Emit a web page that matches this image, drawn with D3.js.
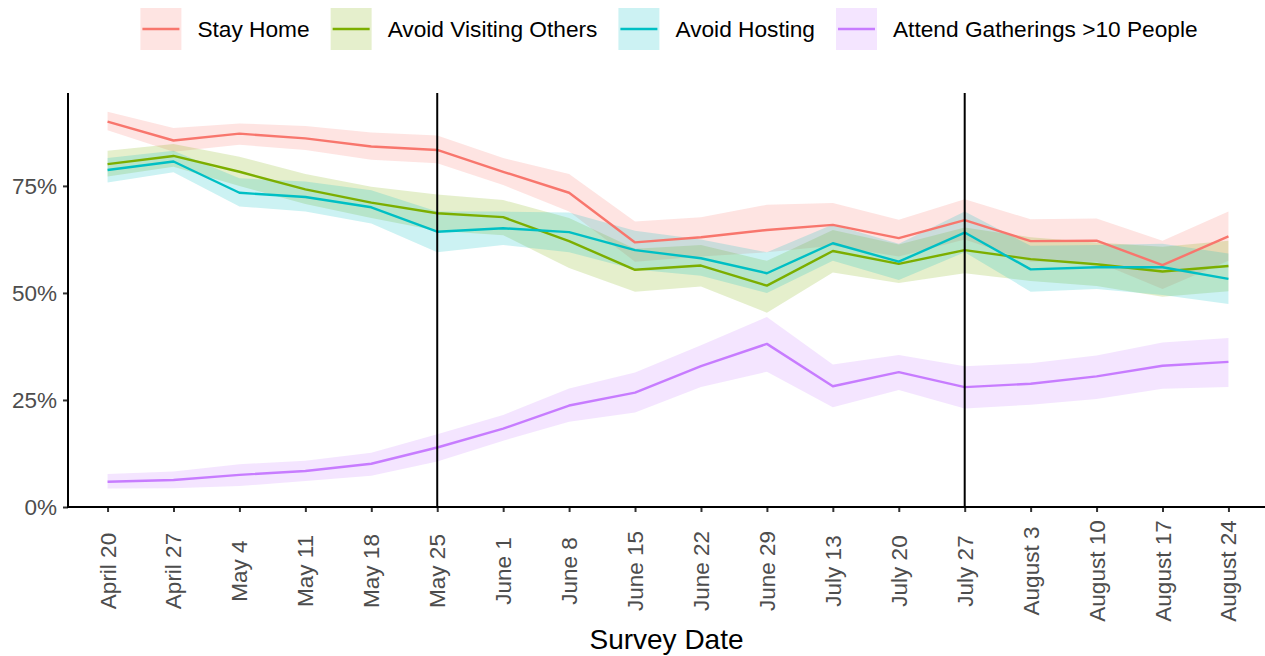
<!DOCTYPE html>
<html>
<head>
<meta charset="utf-8">
<script src="https://cdn.jsdelivr.net/npm/d3@7/dist/d3.min.js"></script>
<style>
  html, body { margin: 0; padding: 0; background: #fff; }
  svg { display: block; font-family: "Liberation Sans", Arial, Helvetica, sans-serif; }
</style>
</head>
<body>
<svg id="chart" width="1265" height="656"></svg>
<script>
// Weekly survey dates (x categories)
const surveyDates = ["April 20", "April 27", "May 4", "May 11", "May 18", "May 25",
  "June 1", "June 8", "June 15", "June 22", "June 29", "July 13", "July 20",
  "July 27", "August 3", "August 10", "August 17", "August 24"];

// Percent of respondents, with lower / upper interval bounds
const stayHome    = [90.0, 85.6, 87.2, 86.1, 84.2, 83.4, 78.3, 73.4, 61.8, 63.0, 64.7, 65.9, 62.8, 67.0, 62.1, 62.2, 56.5, 63.2];
const stayHomeLo  = [88.0, 83.0, 84.6, 83.4, 81.1, 80.3, 75.2, 69.0, 57.3, 58.5, 59.5, 61.0, 58.5, 62.5, 57.3, 57.3, 50.9, 57.5];
const stayHomeHi  = [92.3, 88.5, 89.6, 89.0, 87.5, 86.8, 81.5, 77.8, 66.7, 67.7, 70.6, 71.0, 67.1, 71.9, 67.2, 67.4, 62.2, 69.0];

const avoidVisiting   = [80.1, 82.0, 78.3, 74.2, 71.1, 68.6, 67.7, 62.1, 55.4, 56.4, 51.7, 59.8, 56.8, 60.0, 57.9, 56.7, 55.0, 56.3];
const avoidVisitingLo = [77.2, 79.5, 75.0, 70.8, 67.5, 64.5, 63.5, 55.8, 50.3, 51.5, 45.4, 54.8, 52.3, 54.6, 52.8, 51.6, 49.1, 50.4];
const avoidVisitingHi = [83.2, 84.8, 81.8, 77.8, 74.8, 73.0, 71.7, 67.5, 60.3, 61.2, 57.5, 64.7, 61.3, 65.3, 63.0, 61.8, 60.8, 62.2];

const avoidHosting   = [78.7, 80.7, 73.4, 72.4, 70.0, 64.3, 65.1, 64.2, 60.0, 58.1, 54.6, 61.6, 57.3, 64.1, 55.5, 56.0, 56.0, 53.3];
const avoidHostingLo = [75.8, 78.2, 70.2, 69.0, 66.2, 59.5, 61.2, 59.5, 55.5, 54.0, 50.0, 57.5, 53.0, 59.5, 50.3, 50.9, 49.5, 47.4];
const avoidHostingHi = [81.5, 83.2, 76.8, 76.0, 74.0, 69.0, 69.0, 68.8, 64.5, 62.5, 59.5, 66.0, 61.5, 69.0, 61.0, 61.2, 61.5, 59.2];

const gatherings   = [5.9, 6.3, 7.5, 8.4, 10.1, 13.9, 18.3, 23.7, 26.7, 32.9, 38.1, 28.2, 31.5, 28.0, 28.8, 30.5, 33.0, 33.9];
const gatheringsLo = [4.3, 4.4, 4.9, 6.1, 7.3, 10.6, 15.5, 19.9, 22.1, 28.0, 31.6, 23.3, 27.3, 23.0, 23.9, 25.2, 27.6, 28.0];
const gatheringsHi = [7.7, 8.3, 10.0, 10.8, 12.7, 17.0, 21.5, 27.7, 31.4, 37.8, 44.4, 33.3, 35.5, 32.9, 33.6, 35.4, 38.4, 39.5];

const seriesNames  = ["Stay Home", "Avoid Visiting Others", "Avoid Hosting", "Attend Gatherings >10 People"];
const seriesColors = ["#F8766D", "#7CAE00", "#00BFC4", "#C77CFF"];

// Dates marked with reference lines
const markedDates = ["May 25", "July 27"];

const yTicks = [0, 25, 50, 75];

const series = [
  { name: seriesNames[0], color: seriesColors[0], mid: stayHome, lo: stayHomeLo, hi: stayHomeHi },
  { name: seriesNames[1], color: seriesColors[1], mid: avoidVisiting, lo: avoidVisitingLo, hi: avoidVisitingHi },
  { name: seriesNames[2], color: seriesColors[2], mid: avoidHosting, lo: avoidHostingLo, hi: avoidHostingHi },
  { name: seriesNames[3], color: seriesColors[3], mid: gatherings, lo: gatheringsLo, hi: gatheringsHi }
];

const svg = d3.select("#chart");
const panel = { left: 68, right: 1268, top: 93, bottom: 507 };

const x = d3.scalePoint().domain(surveyDates).range([panel.left, panel.right]).padding(0.6);
const y = d3.scaleLinear().domain([0, 96.7]).range([panel.bottom, panel.top]);

// Confidence ribbons
const area = d3.area()
  .x((d, i) => x(surveyDates[i]))
  .y0(d => y(d[0]))
  .y1(d => y(d[1]));

svg.append("g").selectAll("path")
  .data(series)
  .join("path")
  .attr("d", s => area(s.lo.map((v, i) => [v, s.hi[i]])))
  .attr("fill", s => s.color)
  .attr("fill-opacity", 0.2);

// Estimate lines
const line = d3.line()
  .x((d, i) => x(surveyDates[i]))
  .y(d => y(d));

svg.append("g").selectAll("path")
  .data(series)
  .join("path")
  .attr("d", s => line(s.mid))
  .attr("fill", "none")
  .attr("stroke", s => s.color)
  .attr("stroke-width", 2.4)
  .attr("stroke-linejoin", "round");

// Vertical reference lines
svg.append("g").selectAll("line")
  .data(markedDates)
  .join("line")
  .attr("x1", d => x(d)).attr("x2", d => x(d))
  .attr("y1", panel.top).attr("y2", panel.bottom)
  .attr("stroke", "#000")
  .attr("stroke-width", 2);

// Y axis
const yAxis = svg.append("g")
  .attr("transform", `translate(${panel.left},0)`)
  .call(d3.axisLeft(y).tickValues(yTicks).tickFormat(d => d + "%").tickSize(5).tickPadding(6));
yAxis.select(".domain").remove();
yAxis.selectAll(".tick line").attr("stroke", "#333").attr("stroke-width", 2);
yAxis.selectAll(".tick text")
  .attr("fill", "#4D4D4D")
  .style("font-size", "22.5px")
  .style("font-family", "\"Liberation Sans\", Arial, sans-serif");
svg.append("line")
  .attr("x1", panel.left).attr("x2", panel.left)
  .attr("y1", panel.top).attr("y2", panel.bottom + 1)
  .attr("stroke", "#000").attr("stroke-width", 2);

// X axis
const xAxis = svg.append("g")
  .attr("transform", `translate(0,${panel.bottom})`)
  .call(d3.axisBottom(x).tickSize(5).tickPadding(0));
xAxis.select(".domain").remove();
xAxis.selectAll(".tick line").attr("stroke", "#333").attr("stroke-width", 2);
xAxis.selectAll(".tick text")
  .attr("fill", "#4D4D4D")
  .style("font-size", "22.5px")
  .style("font-family", "\"Liberation Sans\", Arial, sans-serif")
  .attr("text-anchor", "middle")
  .attr("dominant-baseline", "central")
  .attr("dy", null)
  .attr("y", 0)
  .attr("transform", "translate(0,64) rotate(-90)");
svg.append("line")
  .attr("x1", panel.left - 1).attr("x2", 1265)
  .attr("y1", panel.bottom).attr("y2", panel.bottom)
  .attr("stroke", "#000").attr("stroke-width", 2);

// Axis title
svg.append("text")
  .attr("x", (panel.left + 1265) / 2)
  .attr("y", 649)
  .attr("text-anchor", "middle")
  .style("font-size", "28px")
  .attr("fill", "#000")
  .text("Survey Date");

// Legend along the top
const legend = svg.append("g");
const keyW = 41, keyH = 42, keyGap = 16, itemGap = 21;
let cursor = 0;
series.forEach(s => {
  const g = legend.append("g").attr("transform", `translate(${cursor},0)`);
  g.append("rect").attr("x", 0).attr("y", 0).attr("width", keyW).attr("height", keyH)
    .attr("fill", s.color).attr("fill-opacity", 0.2);
  g.append("line").attr("x1", 2).attr("x2", keyW - 2)
    .attr("y1", keyH / 2).attr("y2", keyH / 2)
    .attr("stroke", s.color).attr("stroke-width", 2.4);
  const t = g.append("text").attr("x", keyW + keyGap).attr("y", keyH / 2)
    .attr("dominant-baseline", "central")
    .style("font-size", "22.7px").attr("fill", "#000").text(s.name);
  cursor += keyW + keyGap + t.node().getComputedTextLength() + itemGap;
});
const legendWidth = cursor - itemGap;
legend.attr("transform", `translate(${669 - legendWidth / 2},8)`);
</script>
</body>
</html>
